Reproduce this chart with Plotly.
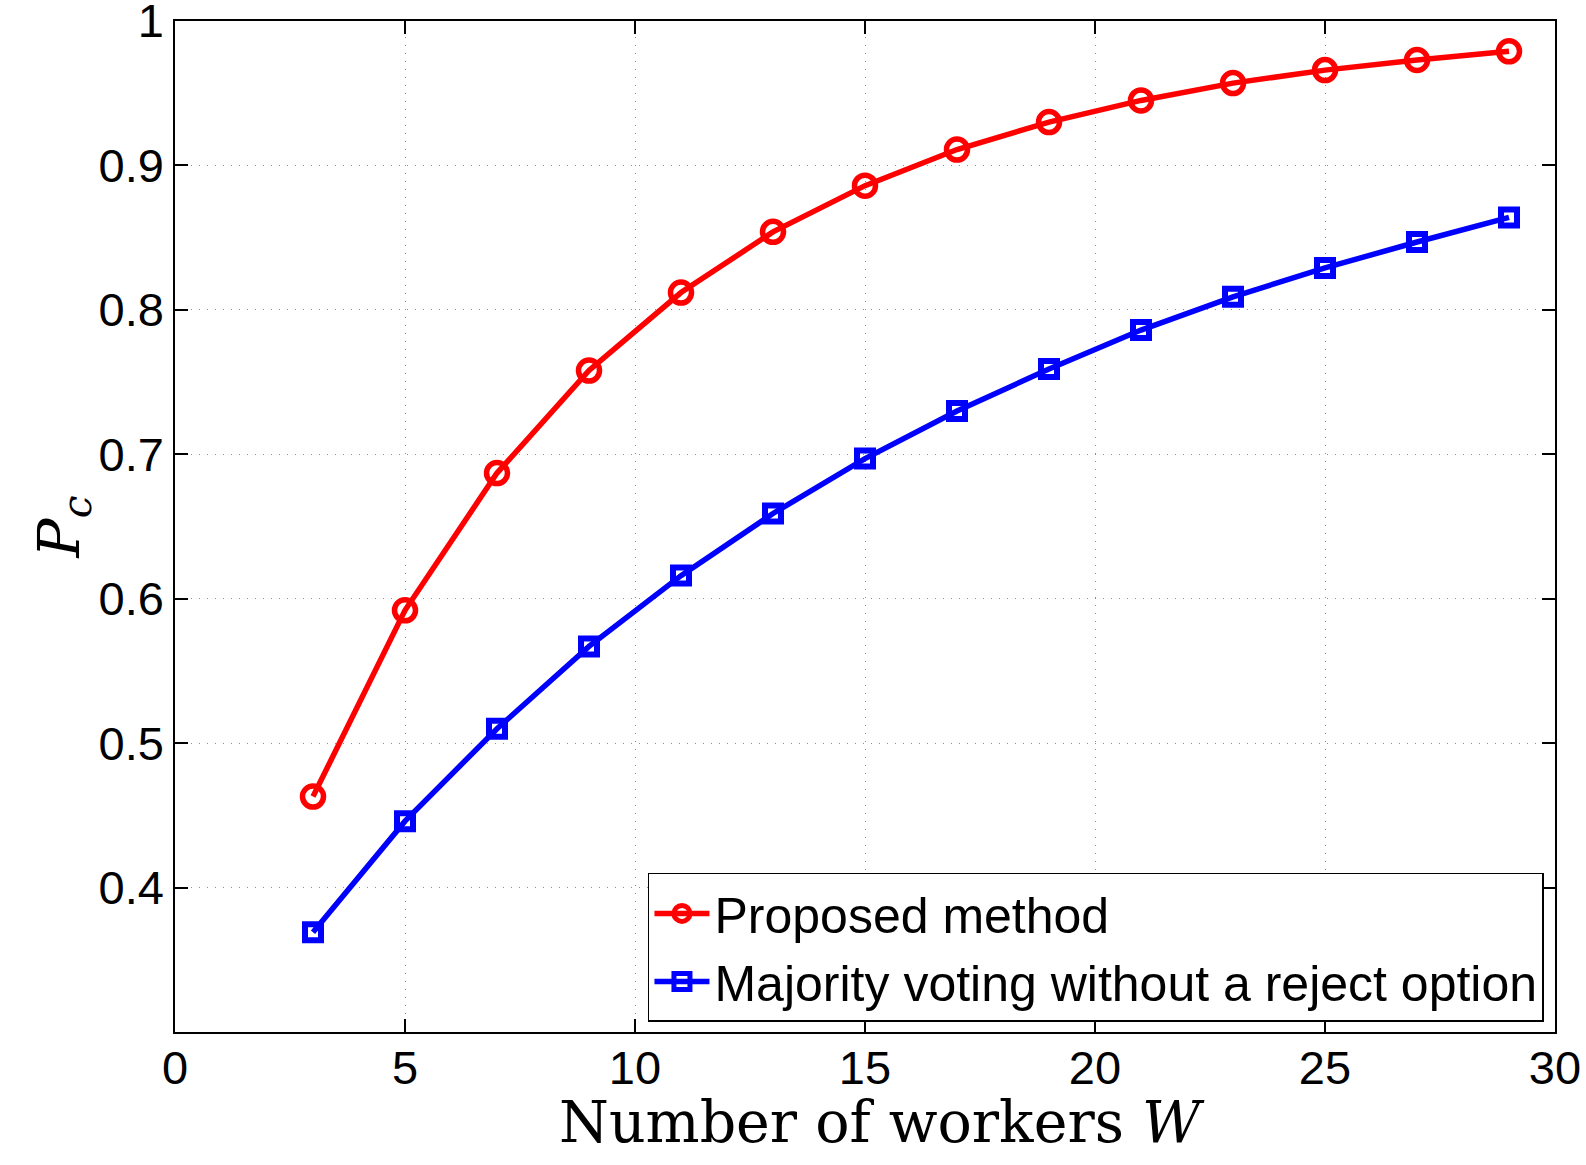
import plotly.graph_objects as go

workers = [3, 5, 7, 9, 11, 13, 15, 17, 19, 21, 23, 25, 27, 29]
proposed = [0.463, 0.592, 0.687, 0.758, 0.812, 0.854, 0.886, 0.911, 0.930, 0.945, 0.957, 0.966, 0.973, 0.979]
majority = [0.369, 0.446, 0.510, 0.567, 0.616, 0.659, 0.697, 0.730, 0.759, 0.786, 0.809, 0.829, 0.847, 0.864]
x_ticks = [0, 5, 10, 15, 20, 25, 30]
y_ticks = [0.4, 0.5, 0.6, 0.7, 0.8, 0.9, 1.0]
y_tick_text = ["0.4", "0.5", "0.6", "0.7", "0.8", "0.9", "1"]

fig = go.Figure()
fig.add_trace(go.Scatter(
    x=workers, y=proposed, mode="lines+markers", name="Proposed method",
    line=dict(color="#ff0000", width=5.5),
    marker=dict(symbol="circle-open", size=21, color="#ff0000", line=dict(width=5.5, color="#ff0000")),
))
fig.add_trace(go.Scatter(
    x=workers, y=majority, mode="lines+markers", name="Majority voting without a reject option",
    line=dict(color="#0000ff", width=5.5),
    marker=dict(symbol="square-open", size=16, color="#0000ff", line=dict(width=6, color="#0000ff")),
))

axis_common = dict(
    showline=True, linecolor="black", linewidth=1.5, mirror="ticks",
    ticks="inside", ticklen=13, tickwidth=1.5, tickcolor="black",
    showgrid=True, gridcolor="#8c8c8c", gridwidth=1, griddash="1px,7px",
    zeroline=False, ticklabeloverflow="allow", automargin=False,
    tickfont=dict(family="Liberation Sans, Arial, sans-serif", size=47, color="black"),
)

fig.update_xaxes(
    range=[0, 30], tickvals=x_ticks, ticktext=[str(v) for v in x_ticks],
    ticklabelstandoff=-6,
    **axis_common,
)
fig.update_yaxes(
    range=[0.3, 1.0], tickvals=y_ticks, ticktext=y_tick_text,
    title=dict(text="<i>P</i><sub><i>c</i></sub>", standoff=0,
               font=dict(family="DejaVu Serif, serif", size=58, color="black")),
    **axis_common,
)

fig.add_annotation(
    text="Number of workers <i>W</i>", xref="paper", yref="paper",
    x=0.512, y=-0.054, xanchor="center", yanchor="top", showarrow=False,
    font=dict(family="DejaVu Serif, serif", size=57, color="black"),
)

fig.update_layout(
    width=1586, height=1165,
    margin=dict(l=175, r=31, t=21, b=133),
    paper_bgcolor="white", plot_bgcolor="white",
    showlegend=True,
    legend=dict(
        x=0.992, y=0.01, xanchor="right", yanchor="bottom",
        bgcolor="white", bordercolor="black", borderwidth=1.5,
        font=dict(family="Liberation Sans, Arial, sans-serif", size=50, color="black"),
        itemwidth=55, tracegroupgap=0,
    ),
)

fig.write_html("out.html")
